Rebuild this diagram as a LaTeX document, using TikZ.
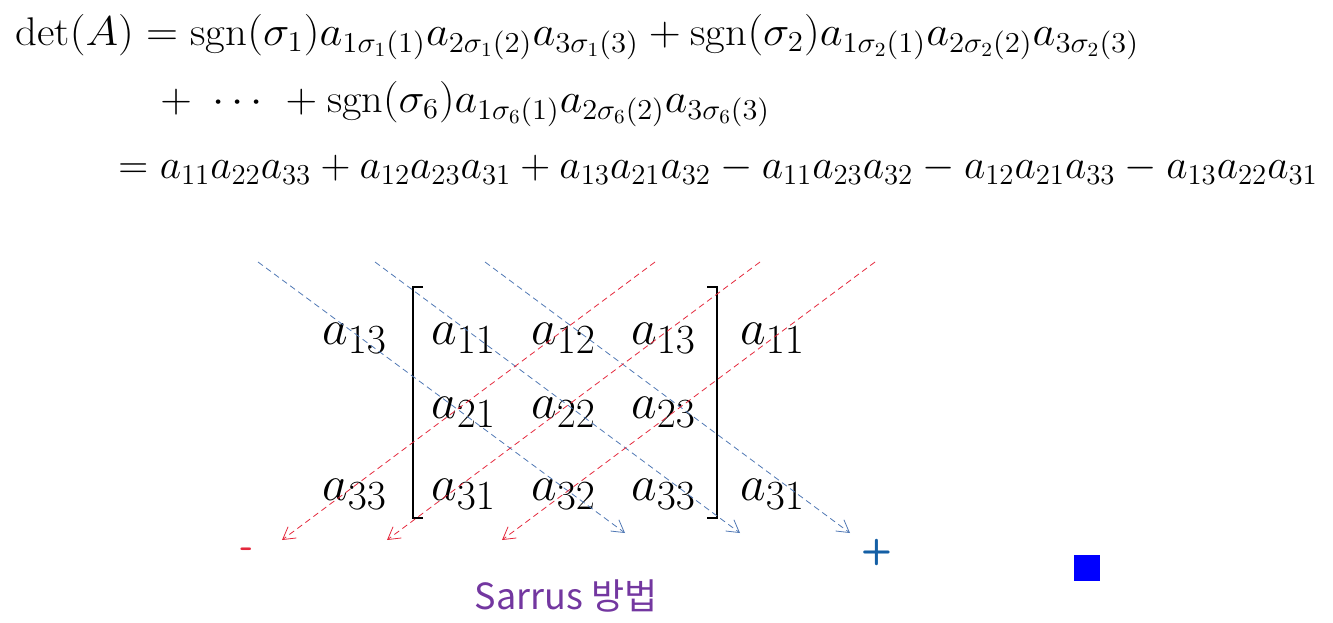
\documentclass[tikz,border=0pt]{standalone}
\usepackage{amsmath}
\usepackage{fontspec}
\newfontfamily\kofont{Noto Sans CJK KR}
\usetikzlibrary{positioning, arrows.meta}
\DeclareMathSizes{29}{29}{20}{15}
\definecolor{diagblue}{RGB}{80,120,180}
\definecolor{diagred}{RGB}{228,40,60}
\definecolor{signblue}{RGB}{20,95,165}
\definecolor{labpurple}{RGB}{115,55,160}

\tikzset{
  eqline/.style={anchor=base west, inner sep=0pt, font=\fontsize{20}{24}\selectfont},
  entry/.style={anchor=base west, inner sep=0pt, font=\fontsize{29}{34}\selectfont},
  plusdiag/.style={densely dashed, color=diagblue, line width=0.4pt, ->},
  minusdiag/.style={densely dashed, color=diagred, line width=0.4pt, ->},
}

\begin{document}
\begin{tikzpicture}[x=0.5pt, y=-0.5pt, >={Straight Barb[length=6pt, width=7pt]}]
  \useasboundingbox (0,0) rectangle (1333,622);

  % expansion of det(A)
  \node (eq1) [eqline, xscale=1.07, transform shape] at (15,45) {$\det(A) = \mathrm{sgn}(\sigma_1)a_{1\sigma_1(1)}a_{2\sigma_1(2)}a_{3\sigma_1(3)} + \mathrm{sgn}(\sigma_2)a_{1\sigma_2(1)}a_{2\sigma_2(2)}a_{3\sigma_2(3)}$};
  \node (eq2) [eqline, xscale=1.057, transform shape] at (160,112) {$+\ \cdots\ + \mathrm{sgn}(\sigma_6)a_{1\sigma_6(1)}a_{2\sigma_6(2)}a_{3\sigma_6(3)}$};
  \node (eq3) [eqline] at (118,178) {$= a_{11}a_{22}a_{33} + a_{12}a_{23}a_{31} + a_{13}a_{21}a_{32} - a_{11}a_{23}a_{32} - a_{12}a_{21}a_{33} - a_{13}a_{22}a_{31}$};

  % Sarrus scheme
  \node (l13) [entry] at (322,344) {$a_{13}$};
  \node (m11) [entry] at (431,344) {$a_{11}$};
  \node (m12) [entry] at (531,344) {$a_{12}$};
  \node (m13) [entry] at (631,344) {$a_{13}$};
  \node (r11) [entry] at (740,344) {$a_{11}$};
  \node (m21) [entry] at (431,418) {$a_{21}$};
  \node (m22) [entry] at (531,418) {$a_{22}$};
  \node (m23) [entry] at (631,418) {$a_{23}$};
  \node (l33) [entry] at (322,500) {$a_{33}$};
  \node (m31) [entry] at (431,500) {$a_{31}$};
  \node (m32) [entry] at (531,500) {$a_{32}$};
  \node (m33) [entry] at (631,500) {$a_{33}$};
  \node (r31) [entry] at (740,500) {$a_{31}$};

  \draw [line width=1pt] (423,287) -- (413,287) -- (413,518) -- (423,518);
  \draw [line width=1pt] (707,287) -- (717,287) -- (717,518) -- (707,518);

  \coordinate (bs1) at (258,262);
  \coordinate (bs2) at (375,262);
  \coordinate (bs3) at (485,262);
  \coordinate (be1) at (625,533);
  \coordinate (be2) at (740,533);
  \coordinate (be3) at (850,533);
  \draw [plusdiag] (bs1) -- (be1);
  \draw [plusdiag] (bs2) -- (be2);
  \draw [plusdiag] (bs3) -- (be3);

  \coordinate (rs1) at (655,262);
  \coordinate (rs2) at (760,262);
  \coordinate (rs3) at (875,262);
  \coordinate (re1) at (282,540);
  \coordinate (re2) at (387,540);
  \coordinate (re3) at (502,540);
  \draw [minusdiag] (rs1) -- (re1);
  \draw [minusdiag] (rs2) -- (re2);
  \draw [minusdiag] (rs3) -- (re3);

  \node (minus) [color=diagred, font=\sffamily\bfseries\fontsize{18}{20}\selectfont] at (247,553) {-};
  \node (plus) [color=signblue, font=\sffamily\bfseries\fontsize{18}{20}\selectfont] at (877,552) {+};
  \node (title) [color=labpurple, font=\kofont\fontsize{18}{20}\selectfont] at (566,596) {Sarrus 방법};

  \node (qed) [fill=blue, minimum size=13pt, inner sep=0pt] at (1087,568) {};
\end{tikzpicture}
\end{document}
